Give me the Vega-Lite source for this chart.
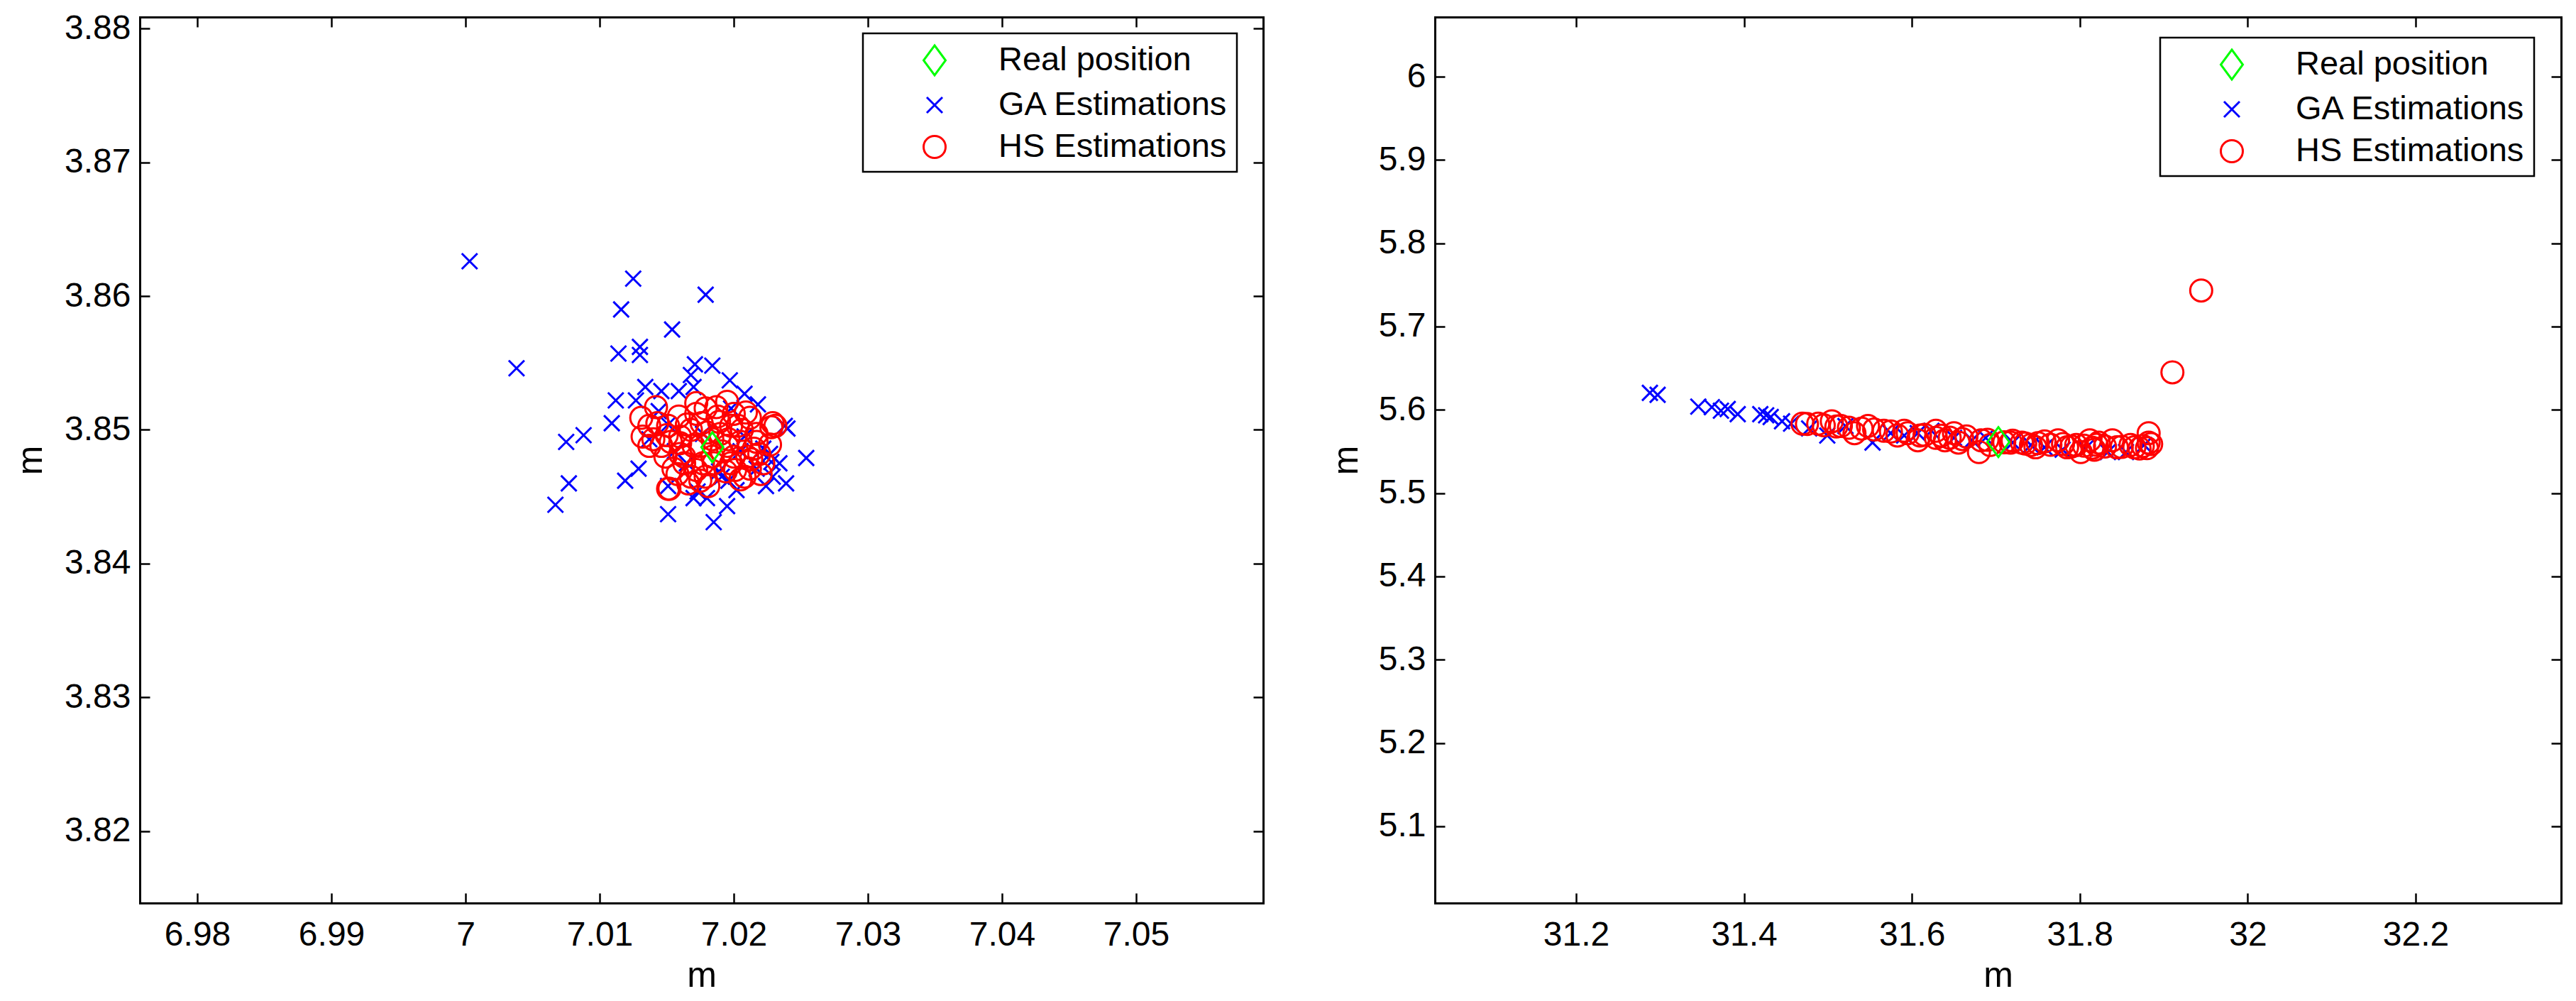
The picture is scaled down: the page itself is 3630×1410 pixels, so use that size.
{
  "$schema": "https://vega.github.io/schema/vega-lite/v6.json",
  "background": "white",
  "padding": {"left": 18, "top": 16, "right": 0, "bottom": 0},
  "autosize": {"type": "pad"},
  "config": {
    "view": {"stroke": null},
    "font": "Liberation Sans",
    "axis": {
      "grid": false, "tickSize": -14, "tickWidth": 2.5, "tickColor": "black",
      "domainColor": "black", "domainWidth": 3, "domainCap": "square",
      "labelFontSize": 48, "labelFont": "Liberation Sans", "labelColor": "black",
      "labelFlush": false, "labelOverlap": false,
      "titleFontSize": 50, "titleFont": "Liberation Sans", "titleFontWeight": "normal",
      "titleColor": "black", "titleBaseline": "alphabetic"
    },
    "legend": {
      "orient": "none", "padding": 11.5, "strokeColor": "black", "strokeWidth": 2.5,
      "fillColor": "white", "symbolSize": 2500, "symbolStrokeWidth": 3,
      "symbolOffset": 63, "labelOffset": 63.5, "rowPadding": 9,
      "labelFontSize": 47, "labelFont": "Liberation Sans", "labelColor": "black",
      "labelLimit": 1000, "cornerRadius": 0
    }
  },
  "datasets": {
    "left": [
      {"series": "GA Estimations", "x": 7.0003, "y": 3.8626},
      {"series": "GA Estimations", "x": 7.0125, "y": 3.8613},
      {"series": "GA Estimations", "x": 7.0179, "y": 3.8601},
      {"series": "GA Estimations", "x": 7.0116, "y": 3.8590},
      {"series": "GA Estimations", "x": 7.0154, "y": 3.8575},
      {"series": "GA Estimations", "x": 7.0038, "y": 3.8546},
      {"series": "GA Estimations", "x": 7.0114, "y": 3.8557},
      {"series": "GA Estimations", "x": 7.0130, "y": 3.8562},
      {"series": "GA Estimations", "x": 7.0130, "y": 3.8556},
      {"series": "GA Estimations", "x": 7.0171, "y": 3.8549},
      {"series": "GA Estimations", "x": 7.0184, "y": 3.8548},
      {"series": "GA Estimations", "x": 7.0168, "y": 3.8541},
      {"series": "GA Estimations", "x": 7.0197, "y": 3.8537},
      {"series": "GA Estimations", "x": 7.0208, "y": 3.8527},
      {"series": "GA Estimations", "x": 7.0218, "y": 3.8519},
      {"series": "GA Estimations", "x": 7.0134, "y": 3.8532},
      {"series": "GA Estimations", "x": 7.0146, "y": 3.8529},
      {"series": "GA Estimations", "x": 7.0159, "y": 3.8529},
      {"series": "GA Estimations", "x": 7.0170, "y": 3.8532},
      {"series": "GA Estimations", "x": 7.0112, "y": 3.8522},
      {"series": "GA Estimations", "x": 7.0127, "y": 3.8522},
      {"series": "GA Estimations", "x": 7.0109, "y": 3.8505},
      {"series": "GA Estimations", "x": 7.0075, "y": 3.8491},
      {"series": "GA Estimations", "x": 7.0088, "y": 3.8496},
      {"series": "GA Estimations", "x": 7.0077, "y": 3.8460},
      {"series": "GA Estimations", "x": 7.0067, "y": 3.8444},
      {"series": "GA Estimations", "x": 7.0129, "y": 3.8471},
      {"series": "GA Estimations", "x": 7.0119, "y": 3.8462},
      {"series": "GA Estimations", "x": 7.0151, "y": 3.8437},
      {"series": "GA Estimations", "x": 7.0185, "y": 3.8431},
      {"series": "GA Estimations", "x": 7.0195, "y": 3.8443},
      {"series": "GA Estimations", "x": 7.0180, "y": 3.8449},
      {"series": "GA Estimations", "x": 7.0173, "y": 3.8454},
      {"series": "GA Estimations", "x": 7.0202, "y": 3.8455},
      {"series": "GA Estimations", "x": 7.0224, "y": 3.8458},
      {"series": "GA Estimations", "x": 7.0239, "y": 3.8460},
      {"series": "GA Estimations", "x": 7.0229, "y": 3.8465},
      {"series": "GA Estimations", "x": 7.0254, "y": 3.8479},
      {"series": "GA Estimations", "x": 7.0234, "y": 3.8475},
      {"series": "GA Estimations", "x": 7.0238, "y": 3.8503},
      {"series": "GA Estimations", "x": 7.0227, "y": 3.8482},
      {"series": "GA Estimations", "x": 7.0228, "y": 3.8476},
      {"series": "GA Estimations", "x": 7.0151, "y": 3.8458},
      {"series": "GA Estimations", "x": 7.0191, "y": 3.8465},
      {"series": "GA Estimations", "x": 7.0222, "y": 3.8486},
      {"series": "GA Estimations", "x": 7.0144, "y": 3.8514},
      {"series": "GA Estimations", "x": 7.0151, "y": 3.8504},
      {"series": "GA Estimations", "x": 7.0198, "y": 3.8516},
      {"series": "GA Estimations", "x": 7.0189, "y": 3.8469},
      {"series": "GA Estimations", "x": 7.0165, "y": 3.8475},
      {"series": "GA Estimations", "x": 7.0205, "y": 3.8484},
      {"series": "GA Estimations", "x": 7.0137, "y": 3.8493},
      {"series": "GA Estimations", "x": 7.0177, "y": 3.8497},
      {"series": "GA Estimations", "x": 7.0208, "y": 3.8495},
      {"series": "GA Estimations", "x": 7.0156, "y": 3.8484},
      {"series": "GA Estimations", "x": 7.0217, "y": 3.8471},
      {"series": "GA Estimations", "x": 7.0196, "y": 3.8462},
      {"series": "GA Estimations", "x": 7.0170, "y": 3.8449},
      {"series": "GA Estimations", "x": 7.0240, "y": 3.8501},
      {"series": "HS Estimations", "x": 7.0142, "y": 3.8517},
      {"series": "HS Estimations", "x": 7.0131, "y": 3.8509},
      {"series": "HS Estimations", "x": 7.0132, "y": 3.8495},
      {"series": "HS Estimations", "x": 7.0140, "y": 3.8493},
      {"series": "HS Estimations", "x": 7.0151, "y": 3.8503},
      {"series": "HS Estimations", "x": 7.0172, "y": 3.8520},
      {"series": "HS Estimations", "x": 7.0179, "y": 3.8516},
      {"series": "HS Estimations", "x": 7.0195, "y": 3.8521},
      {"series": "HS Estimations", "x": 7.0209, "y": 3.8513},
      {"series": "HS Estimations", "x": 7.0229, "y": 3.8505},
      {"series": "HS Estimations", "x": 7.0228, "y": 3.8502},
      {"series": "HS Estimations", "x": 7.0217, "y": 3.8497},
      {"series": "HS Estimations", "x": 7.0215, "y": 3.8486},
      {"series": "HS Estimations", "x": 7.0208, "y": 3.8465},
      {"series": "HS Estimations", "x": 7.0205, "y": 3.8463},
      {"series": "HS Estimations", "x": 7.0151, "y": 3.8456},
      {"series": "HS Estimations", "x": 7.0155, "y": 3.8471},
      {"series": "HS Estimations", "x": 7.0149, "y": 3.8480},
      {"series": "HS Estimations", "x": 7.0168, "y": 3.8465},
      {"series": "HS Estimations", "x": 7.0175, "y": 3.8462},
      {"series": "HS Estimations", "x": 7.0160, "y": 3.8495},
      {"series": "HS Estimations", "x": 7.0170, "y": 3.8488},
      {"series": "HS Estimations", "x": 7.0196, "y": 3.8493},
      {"series": "HS Estimations", "x": 7.0198, "y": 3.8475},
      {"series": "HS Estimations", "x": 7.0189, "y": 3.8506},
      {"series": "HS Estimations", "x": 7.0177, "y": 3.8475},
      {"series": "HS Estimations", "x": 7.0163, "y": 3.8480},
      {"series": "HS Estimations", "x": 7.0222, "y": 3.8475},
      {"series": "HS Estimations", "x": 7.0217, "y": 3.8491},
      {"series": "HS Estimations", "x": 7.0203, "y": 3.8503},
      {"series": "HS Estimations", "x": 7.0184, "y": 3.8493},
      {"series": "HS Estimations", "x": 7.0165, "y": 3.8504},
      {"series": "HS Estimations", "x": 7.0146, "y": 3.8488},
      {"series": "HS Estimations", "x": 7.0158, "y": 3.8467},
      {"series": "HS Estimations", "x": 7.0184, "y": 3.8480},
      {"series": "HS Estimations", "x": 7.0210, "y": 3.8480},
      {"series": "HS Estimations", "x": 7.0194, "y": 3.8469},
      {"series": "HS Estimations", "x": 7.0175, "y": 3.8488},
      {"series": "HS Estimations", "x": 7.0137, "y": 3.8503},
      {"series": "HS Estimations", "x": 7.0198, "y": 3.8503},
      {"series": "HS Estimations", "x": 7.0212, "y": 3.8471},
      {"series": "HS Estimations", "x": 7.0172, "y": 3.8512},
      {"series": "HS Estimations", "x": 7.0153, "y": 3.8491},
      {"series": "HS Estimations", "x": 7.0191, "y": 3.8484},
      {"series": "HS Estimations", "x": 7.0219, "y": 3.8482},
      {"series": "HS Estimations", "x": 7.0179, "y": 3.8465},
      {"series": "HS Estimations", "x": 7.0163, "y": 3.8475},
      {"series": "HS Estimations", "x": 7.0205, "y": 3.8491},
      {"series": "HS Estimations", "x": 7.0227, "y": 3.8489},
      {"series": "HS Estimations", "x": 7.0137, "y": 3.8488},
      {"series": "HS Estimations", "x": 7.0160, "y": 3.8490},
      {"series": "HS Estimations", "x": 7.0168, "y": 3.8500},
      {"series": "HS Estimations", "x": 7.0180, "y": 3.8498},
      {"series": "HS Estimations", "x": 7.0188, "y": 3.8510},
      {"series": "HS Estimations", "x": 7.0200, "y": 3.8512},
      {"series": "HS Estimations", "x": 7.0206, "y": 3.8500},
      {"series": "HS Estimations", "x": 7.0195, "y": 3.8488},
      {"series": "HS Estimations", "x": 7.0185, "y": 3.8475},
      {"series": "HS Estimations", "x": 7.0172, "y": 3.8470},
      {"series": "HS Estimations", "x": 7.0160, "y": 3.8482},
      {"series": "HS Estimations", "x": 7.0150, "y": 3.8496},
      {"series": "HS Estimations", "x": 7.0143, "y": 3.8505},
      {"series": "HS Estimations", "x": 7.0213, "y": 3.8478},
      {"series": "HS Estimations", "x": 7.0220, "y": 3.8467},
      {"series": "HS Estimations", "x": 7.0200, "y": 3.8480},
      {"series": "HS Estimations", "x": 7.0190, "y": 3.8497},
      {"series": "HS Estimations", "x": 7.0176, "y": 3.8505},
      {"series": "HS Estimations", "x": 7.0166, "y": 3.8460},
      {"series": "HS Estimations", "x": 7.0181, "y": 3.8458},
      {"series": "HS Estimations", "x": 7.0201, "y": 3.8470},
      {"series": "HS Estimations", "x": 7.0212, "y": 3.8509},
      {"series": "HS Estimations", "x": 7.0187, "y": 3.8517},
      {"series": "HS Estimations", "x": 7.0159, "y": 3.8510},
      {"series": "HS Estimations", "x": 7.0231, "y": 3.8503},
      {"series": "HS Estimations", "x": 7.0152, "y": 3.8456},
      {"series": "Real position", "x": 7.0184, "y": 3.8487}
    ],
    "right": [
      {"series": "GA Estimations", "x": 31.2879, "y": 5.6204},
      {"series": "GA Estimations", "x": 31.2971, "y": 5.6181},
      {"series": "GA Estimations", "x": 31.3456, "y": 5.6039},
      {"series": "GA Estimations", "x": 31.3617, "y": 5.6033},
      {"series": "GA Estimations", "x": 31.3725, "y": 5.5990},
      {"series": "GA Estimations", "x": 31.3806, "y": 5.6010},
      {"series": "GA Estimations", "x": 31.3925, "y": 5.5948},
      {"series": "GA Estimations", "x": 31.4194, "y": 5.5948},
      {"series": "GA Estimations", "x": 31.4264, "y": 5.5934},
      {"series": "GA Estimations", "x": 31.4318, "y": 5.5914},
      {"series": "GA Estimations", "x": 31.4453, "y": 5.5863},
      {"series": "GA Estimations", "x": 31.4561, "y": 5.5834},
      {"series": "GA Estimations", "x": 31.4776, "y": 5.5777},
      {"series": "GA Estimations", "x": 31.4992, "y": 5.5692},
      {"series": "GA Estimations", "x": 31.5208, "y": 5.5806},
      {"series": "GA Estimations", "x": 31.5531, "y": 5.5607},
      {"series": "GA Estimations", "x": 31.5747, "y": 5.5720},
      {"series": "GA Estimations", "x": 31.5908, "y": 5.5692},
      {"series": "GA Estimations", "x": 31.6070, "y": 5.5720},
      {"series": "GA Estimations", "x": 31.6232, "y": 5.5749},
      {"series": "GA Estimations", "x": 31.6501, "y": 5.5664},
      {"series": "GA Estimations", "x": 31.6717, "y": 5.5635},
      {"series": "GA Estimations", "x": 31.6879, "y": 5.5664},
      {"series": "GA Estimations", "x": 31.7202, "y": 5.5607},
      {"series": "GA Estimations", "x": 31.7418, "y": 5.5578},
      {"series": "GA Estimations", "x": 31.7580, "y": 5.5550},
      {"series": "GA Estimations", "x": 31.7795, "y": 5.5522},
      {"series": "GA Estimations", "x": 31.8065, "y": 5.5536},
      {"series": "GA Estimations", "x": 31.8334, "y": 5.5493},
      {"series": "GA Estimations", "x": 31.8550, "y": 5.5493},
      {"series": "GA Estimations", "x": 31.8766, "y": 5.5578},
      {"series": "HS Estimations", "x": 31.4696, "y": 5.5834},
      {"series": "HS Estimations", "x": 31.4884, "y": 5.5834},
      {"series": "HS Estimations", "x": 31.5046, "y": 5.5863},
      {"series": "HS Estimations", "x": 31.5154, "y": 5.5806},
      {"series": "HS Estimations", "x": 31.5316, "y": 5.5720},
      {"series": "HS Estimations", "x": 31.5477, "y": 5.5806},
      {"series": "HS Estimations", "x": 31.5666, "y": 5.5749},
      {"series": "HS Estimations", "x": 31.5828, "y": 5.5692},
      {"series": "HS Estimations", "x": 31.5908, "y": 5.5749},
      {"series": "HS Estimations", "x": 31.6070, "y": 5.5635},
      {"series": "HS Estimations", "x": 31.6097, "y": 5.5692},
      {"series": "HS Estimations", "x": 31.6286, "y": 5.5664},
      {"series": "HS Estimations", "x": 31.6286, "y": 5.5749},
      {"series": "HS Estimations", "x": 31.6393, "y": 5.5635},
      {"series": "HS Estimations", "x": 31.6501, "y": 5.5720},
      {"series": "HS Estimations", "x": 31.6555, "y": 5.5607},
      {"series": "HS Estimations", "x": 31.6798, "y": 5.5493},
      {"series": "HS Estimations", "x": 31.6825, "y": 5.5635},
      {"series": "HS Estimations", "x": 31.6933, "y": 5.5578},
      {"series": "HS Estimations", "x": 31.7176, "y": 5.5607},
      {"series": "HS Estimations", "x": 31.7310, "y": 5.5607},
      {"series": "HS Estimations", "x": 31.7418, "y": 5.5578},
      {"series": "HS Estimations", "x": 31.7472, "y": 5.5550},
      {"series": "HS Estimations", "x": 31.7580, "y": 5.5621},
      {"series": "HS Estimations", "x": 31.7741, "y": 5.5635},
      {"series": "HS Estimations", "x": 31.7849, "y": 5.5550},
      {"series": "HS Estimations", "x": 31.7957, "y": 5.5578},
      {"series": "HS Estimations", "x": 31.8011, "y": 5.5493},
      {"series": "HS Estimations", "x": 31.8119, "y": 5.5635},
      {"series": "HS Estimations", "x": 31.8173, "y": 5.5522},
      {"series": "HS Estimations", "x": 31.8226, "y": 5.5607},
      {"series": "HS Estimations", "x": 31.8388, "y": 5.5635},
      {"series": "HS Estimations", "x": 31.8442, "y": 5.5550},
      {"series": "HS Estimations", "x": 31.8604, "y": 5.5578},
      {"series": "HS Estimations", "x": 31.8712, "y": 5.5536},
      {"series": "HS Estimations", "x": 31.8820, "y": 5.5720},
      {"series": "HS Estimations", "x": 31.8820, "y": 5.5607},
      {"series": "HS Estimations", "x": 31.4750, "y": 5.5830},
      {"series": "HS Estimations", "x": 31.4950, "y": 5.5815},
      {"series": "HS Estimations", "x": 31.5100, "y": 5.5800},
      {"series": "HS Estimations", "x": 31.5250, "y": 5.5785},
      {"series": "HS Estimations", "x": 31.5400, "y": 5.5775},
      {"series": "HS Estimations", "x": 31.5550, "y": 5.5765},
      {"series": "HS Estimations", "x": 31.5750, "y": 5.5740},
      {"series": "HS Estimations", "x": 31.5950, "y": 5.5720},
      {"series": "HS Estimations", "x": 31.6150, "y": 5.5700},
      {"series": "HS Estimations", "x": 31.6350, "y": 5.5690},
      {"series": "HS Estimations", "x": 31.6450, "y": 5.5665},
      {"series": "HS Estimations", "x": 31.6600, "y": 5.5650},
      {"series": "HS Estimations", "x": 31.6650, "y": 5.5680},
      {"series": "HS Estimations", "x": 31.6900, "y": 5.5640},
      {"series": "HS Estimations", "x": 31.7100, "y": 5.5610},
      {"series": "HS Estimations", "x": 31.7200, "y": 5.5630},
      {"series": "HS Estimations", "x": 31.7350, "y": 5.5595},
      {"series": "HS Estimations", "x": 31.7500, "y": 5.5600},
      {"series": "HS Estimations", "x": 31.7650, "y": 5.5580},
      {"series": "HS Estimations", "x": 31.7800, "y": 5.5590},
      {"series": "HS Estimations", "x": 31.7900, "y": 5.5560},
      {"series": "HS Estimations", "x": 31.8050, "y": 5.5570},
      {"series": "HS Estimations", "x": 31.8150, "y": 5.5545},
      {"series": "HS Estimations", "x": 31.8300, "y": 5.5560},
      {"series": "HS Estimations", "x": 31.8500, "y": 5.5555},
      {"series": "HS Estimations", "x": 31.8650, "y": 5.5550},
      {"series": "HS Estimations", "x": 31.8750, "y": 5.5565},
      {"series": "HS Estimations", "x": 31.8850, "y": 5.5590},
      {"series": "HS Estimations", "x": 31.8800, "y": 5.5540},
      {"series": "HS Estimations", "x": 31.8200, "y": 5.5580},
      {"series": "HS Estimations", "x": 31.9103, "y": 5.6451},
      {"series": "HS Estimations", "x": 31.9446, "y": 5.7433},
      {"series": "Real position", "x": 31.7030, "y": 5.5613}
    ]
  },
  "hconcat": [
    {
      "width": 1583,
      "height": 1248,
      "layer": [
        {
          "data": {"name": "left"},
          "mark": {"type": "point", "filled": false, "size": 2500, "strokeWidth": 3, "opacity": 1},
          "encoding": {
            "x": {"field": "x", "type": "quantitative",
              "scale": {"domain": [6.97571, 7.05947], "nice": false, "zero": false},
              "axis": {"orient": "bottom", "values": [6.98, 6.99, 7.0, 7.01, 7.02, 7.03, 7.04, 7.05], "format": ".2~f", "title": "m", "labelPadding": 73, "labelBaseline": "alphabetic", "titleY": 117}},
            "y": {"field": "y", "type": "quantitative",
              "scale": {"domain": [3.81464, 3.88085], "nice": false, "zero": false},
              "axis": {"orient": "left", "values": [3.82, 3.83, 3.84, 3.85, 3.86, 3.87, 3.88], "format": ".2~f", "title": "m", "labelPadding": 27, "titleX": -139}},
            "color": {"field": "series", "type": "nominal",
              "scale": {"domain": ["Real position", "GA Estimations", "HS Estimations"], "range": ["#00ff00", "#0000ff", "#ff0000"]},
              "legend": {"title": null, "orient": "none", "legendX": 1019, "legendY": 23}},
            "shape": {"field": "series", "type": "nominal",
              "scale": {"domain": ["Real position", "GA Estimations", "HS Estimations"], "range": ["M0,-0.84L0.62,0L0,0.84L-0.62,0Z", "M-0.44,-0.44L0.44,0.44M-0.44,0.44L0.44,-0.44", "M0.62,0A0.62,0.62,0,1,1,-0.62,0A0.62,0.62,0,1,1,0.62,0Z"]},
              "legend": {"title": null, "orient": "none", "legendX": 1019, "legendY": 23}}
          }
        },
        {
          "data": {"name": "left"},
          "transform": [{"filter": "datum.series === 'Real position'"}],
          "mark": {"type": "point", "opacity": 0},
          "encoding": {
            "x": {"field": "x", "type": "quantitative",
              "scale": {"domain": [6.97571, 7.05947], "nice": false, "zero": false},
              "axis": {"orient": "top", "values": [6.98, 6.99, 7.0, 7.01, 7.02, 7.03, 7.04, 7.05], "labels": false, "title": null}},
            "y": {"field": "y", "type": "quantitative",
              "scale": {"domain": [3.81464, 3.88085], "nice": false, "zero": false},
              "axis": {"orient": "right", "values": [3.82, 3.83, 3.84, 3.85, 3.86, 3.87, 3.88], "labels": false, "title": null}}
          }
        }
      ],
      "resolve": {"axis": {"x": "independent", "y": "independent"}}
    },
    {
      "width": 1587,
      "height": 1248,
      "layer": [
        {
          "data": {"name": "right"},
          "mark": {"type": "point", "filled": false, "size": 2500, "strokeWidth": 3, "opacity": 1},
          "encoding": {
            "x": {"field": "x", "type": "quantitative",
              "scale": {"domain": [31.0318, 32.3733], "nice": false, "zero": false},
              "axis": {"orient": "bottom", "values": [31.2, 31.4, 31.6, 31.8, 32.0, 32.2], "format": ".1~f", "title": "m", "labelPadding": 73, "labelBaseline": "alphabetic", "titleY": 117}},
            "y": {"field": "y", "type": "quantitative",
              "scale": {"domain": [5.0079, 6.0716], "nice": false, "zero": false},
              "axis": {"orient": "left", "values": [5.1, 5.2, 5.3, 5.4, 5.5, 5.6, 5.7, 5.8, 5.9, 6.0], "format": ".1~f", "title": "m", "labelPadding": 27, "titleX": -110}},
            "color": {"field": "series", "type": "nominal",
              "scale": {"domain": ["Real position", "GA Estimations", "HS Estimations"], "range": ["#00ff00", "#0000ff", "#ff0000"]},
              "legend": {"title": null, "orient": "none", "legendX": 1022, "legendY": 29}},
            "shape": {"field": "series", "type": "nominal",
              "scale": {"domain": ["Real position", "GA Estimations", "HS Estimations"], "range": ["M0,-0.84L0.62,0L0,0.84L-0.62,0Z", "M-0.44,-0.44L0.44,0.44M-0.44,0.44L0.44,-0.44", "M0.62,0A0.62,0.62,0,1,1,-0.62,0A0.62,0.62,0,1,1,0.62,0Z"]},
              "legend": {"title": null, "orient": "none", "legendX": 1022, "legendY": 29}}
          }
        },
        {
          "data": {"name": "right"},
          "transform": [{"filter": "datum.series === 'Real position'"}],
          "mark": {"type": "point", "opacity": 0},
          "encoding": {
            "x": {"field": "x", "type": "quantitative",
              "scale": {"domain": [31.0318, 32.3733], "nice": false, "zero": false},
              "axis": {"orient": "top", "values": [31.2, 31.4, 31.6, 31.8, 32.0, 32.2], "labels": false, "title": null}},
            "y": {"field": "y", "type": "quantitative",
              "scale": {"domain": [5.0079, 6.0716], "nice": false, "zero": false},
              "axis": {"orient": "right", "values": [5.1, 5.2, 5.3, 5.4, 5.5, 5.6, 5.7, 5.8, 5.9, 6.0], "labels": false, "title": null}}
          }
        }
      ],
      "resolve": {"axis": {"x": "independent", "y": "independent"}}
    }
  ],
  "spacing": 242,
  "bounds": "flush",
  "resolve": {
    "scale": {"color": "independent", "shape": "independent"},
    "legend": {"color": "independent", "shape": "independent"}
  }
}
